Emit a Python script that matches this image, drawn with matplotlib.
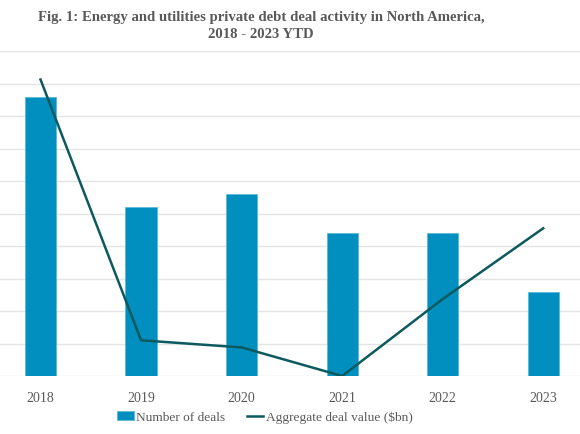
import matplotlib.pyplot as plt
import numpy as np

years = ['2018', '2019', '2020', '2021', '2022', '2023']
num_deals = [43, 26, 28, 22, 22, 13]
deal_value = [9.13, 1.10, 0.88, 0.0, 2.37, 4.55]

BAR_COLOR = '#008fbf'
LINE_COLOR = '#0d5a5e'
TEXT_COLOR = '#595959'
GRID_COLOR = '#e4e4e4'

plt.rcParams['font.family'] = ['Liberation Serif', 'DejaVu Serif']

fig = plt.figure(figsize=(5.8, 4.35), dpi=100)
ax = fig.add_axes([-9.75 / 580, 58 / 435, 603.25 / 580, 324.7 / 435])
x = np.arange(len(years))

ax.bar(x, num_deals, width=0.31, color=BAR_COLOR, edgecolor='#5ab8d8', linewidth=0.6,
       label='Number of deals', zorder=2)
ax.set_xlim(-0.5, len(years) - 0.5)
ax.set_ylim(0, 50)
ax.set_yticks(np.arange(0, 51, 5))
ax.yaxis.grid(True, color=GRID_COLOR, linewidth=1.0, zorder=0)
ax.set_axisbelow(True)
ax.tick_params(axis='y', left=False, labelleft=False)
ax.tick_params(axis='x', bottom=False, colors=TEXT_COLOR, labelsize=10, pad=7.5)
ax.set_xticks(x)
ax.set_xticklabels(years)
for s in ax.spines.values():
    s.set_visible(False)

ax2 = ax.twinx()
ax2.plot(x, deal_value, color=LINE_COLOR, linewidth=1.8, label='Aggregate deal value ($bn)', zorder=3)
ax2.set_ylim(0, 10)
ax2.tick_params(axis='y', right=False, labelright=False)
for s in ax2.spines.values():
    s.set_visible(False)

h1, l1 = ax.get_legend_handles_labels()
h2, l2 = ax2.get_legend_handles_labels()
fig.legend(h1 + h2, l1 + l2, loc='center left', bbox_to_anchor=(117 / 580, 1 - 418 / 435), ncol=2,
           frameon=False, fontsize=9.6, labelcolor=TEXT_COLOR, handlelength=1.25,
           handleheight=0.65, handletextpad=0.2, columnspacing=1.6, borderpad=0,
           borderaxespad=0)

fig.text(261 / 580, 1 - 26 / 435,
         'Fig. 1: Energy and utilities private debt deal activity in North America,\n2018 - 2023 YTD',
         ha='center', va='center', fontsize=10.6, fontweight='bold', color=TEXT_COLOR,
         linespacing=1.3)

fig.savefig('out.png', dpi=100)
